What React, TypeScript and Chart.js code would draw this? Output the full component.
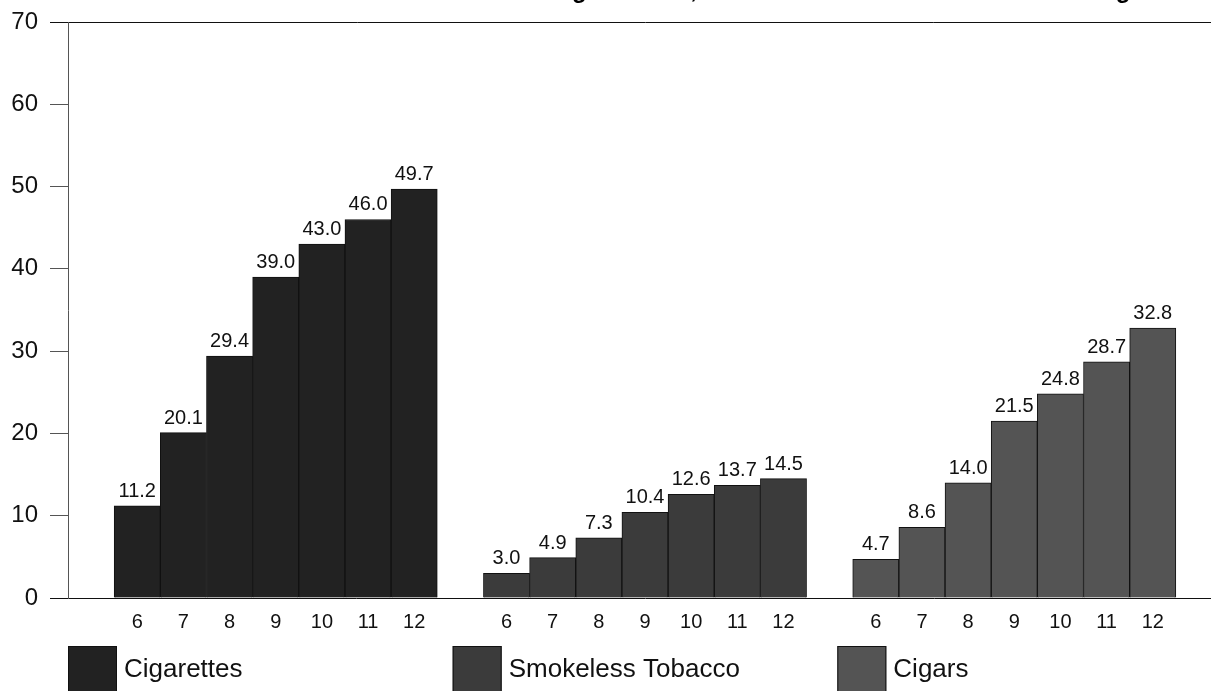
import React, { useEffect, useRef } from "react";
import { Chart, registerables } from "chart.js";

Chart.register(...registerables);

const grades = ["6", "7", "8", "9", "10", "11", "12"];
const seriesNames = ["Cigarettes", "Smokeless Tobacco", "Cigars"];
const cigarettes = [11.2, 20.1, 29.4, 39.0, 43.0, 46.0, 49.7];
const smokeless = [3.0, 4.9, 7.3, 10.4, 12.6, 13.7, 14.5];
const cigars = [4.7, 8.6, 14.0, 21.5, 24.8, 28.7, 32.8];
const seriesColors = ["#222222", "#3b3b3b", "#545454"];
const yTicks = [0, 10, 20, 30, 40, 50, 60, 70];
const titleText = "Percent of Students Ever Using Tobacco, Cumulative Lifetime Use Rate Among Students";

const FONT = "'Liberation Sans', Arial, sans-serif";

export default function App() {
  const ref = useRef<HTMLCanvasElement | null>(null);

  useEffect(() => {
    if (!ref.current) return;
    const groups = [cigarettes, smokeless, cigars];
    const labels: string[] = [""];
    groups.forEach(() => {
      grades.forEach((g) => labels.push(g));
      labels.push("");
    });
    const datasets = groups.map((vals, gi) => {
      const data: (number | null)[] = labels.map(() => null);
      vals.forEach((v, i) => {
        data[1 + gi * (grades.length + 1) + i] = v;
      });
      return {
        label: seriesNames[gi],
        data,
        backgroundColor: seriesColors[gi],
        borderColor: "#111111",
        borderWidth: 1,
        grouped: false,
        barPercentage: 1,
        categoryPercentage: 1,
      };
    });

    const valueLabels = {
      id: "valueLabels",
      afterDatasetsDraw(chart: any) {
        const ctx = chart.ctx;
        ctx.save();
        ctx.font = `20px ${FONT}`;
        ctx.fillStyle = "#111";
        ctx.textAlign = "center";
        ctx.textBaseline = "alphabetic";
        chart.data.datasets.forEach((ds: any, di: number) => {
          const meta = chart.getDatasetMeta(di);
          meta.data.forEach((el: any, i: number) => {
            const v = ds.data[i];
            if (v === null || v === undefined) return;
            ctx.fillText(Number(v).toFixed(1), el.x, el.y - 9);
          });
        });
        ctx.restore();
      },
    };

    const customLegend = {
      id: "customLegend",
      afterDraw(chart: any) {
        const ctx = chart.ctx;
        const area = chart.chartArea;
        const step = (area.right - area.left) / seriesNames.length;
        ctx.save();
        seriesNames.forEach((name, i) => {
          const x = area.left + i * step;
          const y = area.bottom + 48;
          ctx.fillStyle = seriesColors[i];
          ctx.fillRect(x, y, 49, 49);
          ctx.strokeStyle = "#111";
          ctx.lineWidth = 1;
          ctx.strokeRect(x + 0.5, y + 0.5, 48, 48);
          ctx.fillStyle = "#111";
          ctx.font = `26px ${FONT}`;
          ctx.textAlign = "left";
          ctx.textBaseline = "alphabetic";
          ctx.fillText(name, x + 56, area.bottom + 79);
        });
        // title sits mostly above the visible area, as in the reference
        ctx.font = `bold 24px ${FONT}`;
        ctx.textAlign = "left";
        ctx.textBaseline = "alphabetic";
        ctx.fillStyle = "#000";
        ctx.fillText(titleText, 228, -2);
        ctx.restore();
      },
    };

    const chart = new Chart(ref.current, {
      type: "bar",
      data: { labels, datasets: datasets as any },
      plugins: [valueLabels, customLegend],
      options: {
        animation: false,
        responsive: false,
        maintainAspectRatio: false,
        layout: { padding: { top: 22, bottom: 62, left: 0, right: 0 } },
        plugins: {
          legend: { display: false },
          tooltip: { enabled: false },
          title: { display: false },
        },
        scales: {
          x: {
            offset: true,
            grid: { display: false, drawTicks: false },
            border: { display: true, color: "#111", width: 1 },
            ticks: {
              autoSkip: false,
              maxRotation: 0,
              padding: 12,
              color: "#111",
              font: { family: FONT, size: 20 },
            },
            afterFit(scale: any) {
              scale.height = 40;
              scale.paddingLeft = 0;
              scale.paddingRight = 0;
            },
          },
          y: {
            min: 0,
            max: 70,
            afterBuildTicks(scale: any) {
              scale.ticks = yTicks.map((v) => ({ value: v }));
            },
            grid: {
              drawOnChartArea: true,
              drawTicks: true,
              tickLength: 18,
              lineWidth: 1,
              color: (c: any) =>
                c.tick && c.tick.value === 70 ? "#111" : "rgba(0,0,0,0)",
              tickColor: (c: any) =>
                c.tick && (c.tick.value === 70 || c.tick.value === 0) ? "#111" : "#555",
            },
            border: { display: true, color: "#555", width: 1 },
            ticks: {
              padding: 12,
              color: "#111",
              font: { family: FONT, size: 24 },
            },
            afterFit(scale: any) {
              scale.width = 68;
              scale.paddingTop = 0;
              scale.paddingBottom = 0;
            },
          },
        },
      },
    });
    return () => chart.destroy();
  }, []);

  return (
    <div style={{ position: "fixed", left: 0, top: 0, width: 1222, height: 700, background: "#fff" }}>
      <canvas ref={ref} width={1222} height={700} style={{ width: 1222, height: 700, display: "block" }} />
    </div>
  );
}
